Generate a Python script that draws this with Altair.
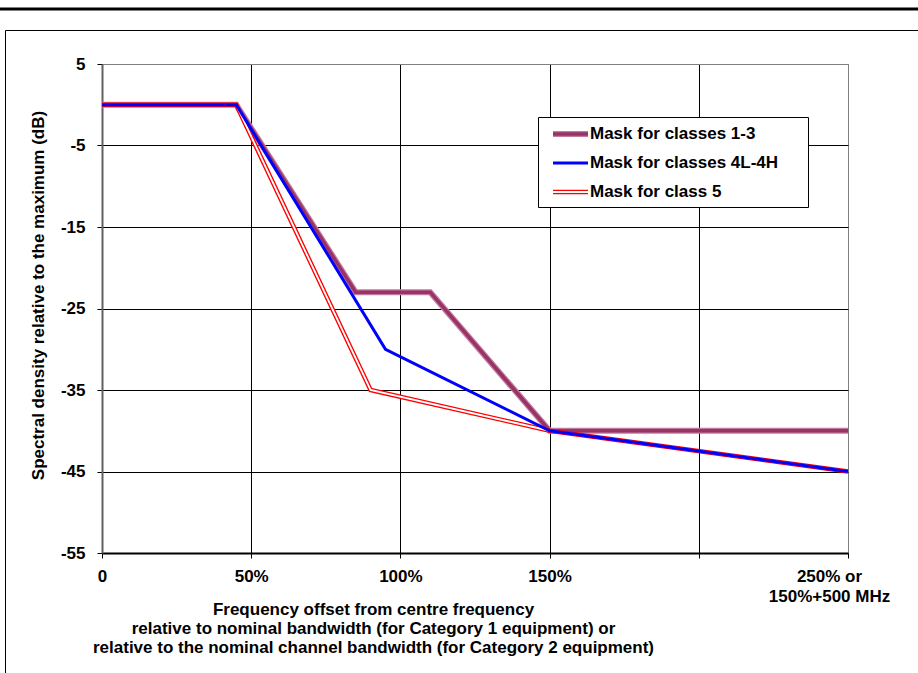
import altair as alt
import pandas as pd

# Spectral density masks (dB relative to the maximum) vs. frequency offset (% of bandwidth)
series_names = ["Mask for classes  1-3", "Mask for classes  4L-4H", "Mask for class 5"]

freq_classes_1_3 = [0, 45, 85, 110, 150, 250]
mask_classes_1_3 = [0, 0, -23, -23, -40, -40]

freq_classes_4 = [0, 45, 95, 150, 250]
mask_classes_4 = [0, 0, -30, -40, -45]

freq_class_5 = [0, 45, 90, 150, 250]
mask_class_5 = [0, 0, -35, -40, -45]

x_ticks = [0, 50, 100, 150, 200, 250]
x_tick_labels = ["0", "50%", "100%", "150%", "", "250% or\n150%+500 MHz"]
y_ticks = [5, -5, -15, -25, -35, -45, -55]

x_title = [
    "Frequency offset from centre frequency",
    "relative to nominal bandwidth (for Category 1 equipment) or",
    "relative to the nominal channel bandwidth (for Category 2 equipment)",
]
y_title = "Spectral density relative to the maximum (dB)"

FONT = "Liberation Sans"
FS = 17

# ---- long-form table of all mask vertices ----
frames = []
for name, fx, my in [
    (series_names[0], freq_classes_1_3, mask_classes_1_3),
    (series_names[1], freq_classes_4, mask_classes_4),
    (series_names[2], freq_class_5, mask_class_5),
]:
    frames.append(pd.DataFrame({"series": name, "freq": fx, "db": my, "order": range(len(fx))}))
lines_df = pd.concat(frames, ignore_index=True)


def js_label(text):
    parts = text.split("\n")
    if len(parts) == 1:
        return repr(parts[0])
    return "[" + ", ".join(repr(p) for p in parts) + "]"


label_expr = ""
for v, lab in zip(x_ticks, x_tick_labels):
    label_expr += f"datum.value == {v} ? {js_label(lab)} : "
label_expr += "''"

x_enc = alt.X(
    "freq:Q",
    scale=alt.Scale(domain=[0, 250], nice=False, zero=False),
    axis=alt.Axis(
        values=x_ticks,
        labelExpr=label_expr,
        labelFont=FONT,
        labelFontSize=FS,
        labelFontWeight="bold",
        labelColor="#000000",
        labelPadding=10,
        labelLineHeight=20,
        labelOffset={"condition": {"test": "datum.value == 250", "value": -19}, "value": 0},
        labelFlush=False,
        labelOverlap=False,
        tickSize=5,
        tickColor="#000000",
        domainColor="#000000",
        domainWidth=2,
        grid=True,
        gridColor={"condition": {"test": "datum.value == 250", "value": "#808080"}, "value": "#000000"},
        gridWidth=1,
        title=x_title,
        titleFont=FONT,
        titleFontSize=FS,
        titleFontWeight="bold",
        titleColor="#000000",
        titleX=271,
        titleY=48,
        titleAlign="center",
        titleBaseline="top",
        titleLineHeight=19,
    ),
)

y_enc = alt.Y(
    "db:Q",
    scale=alt.Scale(domain=[-55, 5], nice=False, zero=False),
    axis=alt.Axis(
        values=y_ticks,
        labelExpr="'' + datum.value",
        labelFont=FONT,
        labelFontSize=FS,
        labelFontWeight="bold",
        labelColor="#000000",
        labelPadding=12,
        labelFlush=False,
        labelOverlap=False,
        tickSize=5,
        tickColor="#000000",
        domainColor="#606060",
        domainWidth=2,
        grid=True,
        gridColor={"condition": {"test": "datum.value == 5", "value": "#808080"}, "value": "#000000"},
        gridWidth=1,
        title=y_title,
        titleFont=FONT,
        titleFontSize=FS,
        titleFontWeight="bold",
        titleColor="#000000",
        titleX=-64,
        titleY=231,
        titleAngle=270,
        titleAlign="center",
        titleBaseline="middle",
    ),
)


def mask_line(series, color, width):
    return (
        alt.Chart(lines_df)
        .transform_filter(alt.datum.series == series)
        .mark_line(color=color, strokeWidth=width, strokeJoin="miter")
        .encode(x=x_enc, y=y_enc, order="order:Q")
    )


# classes 1-3: thick two-tone purple; class 5: red double line; classes 4L-4H: solid blue
purple_outer = mask_line(series_names[0], "#c27ba0", 6)
purple_inner = mask_line(series_names[0], "#993366", 3.5)
red_outer = mask_line(series_names[2], "#ff0000", 4.5)
red_inner = mask_line(series_names[2], "#ffffff", 1.8)
blue_line = mask_line(series_names[1], "#0000ff", 3)

# ---- legend box ----
one_row = pd.DataFrame({"k": [0]})
legend_df = pd.DataFrame({"name": series_names, "idx": [0, 1, 2]})

legend_box = alt.Chart(one_row).mark_rect(
    fill="#ffffff", stroke="#000000", strokeWidth=1
).encode(
    x=alt.value(436.5), x2=alt.value(706.5), y=alt.value(53.5), y2=alt.value(143.5)
)

legend_base = alt.Chart(legend_df).transform_calculate(ly="70 + 29 * datum.idx")


def legend_symbol(idx, color, width):
    return (
        legend_base.transform_filter(alt.datum.idx == idx)
        .mark_rule(color=color, strokeWidth=width)
        .encode(x=alt.value(451), x2=alt.value(486), y=alt.Y("ly:Q", scale=None))
    )


legend_text = legend_base.mark_text(
    align="left", baseline="middle", font=FONT, fontSize=FS, fontWeight="bold", color="#000000"
).encode(x=alt.value(488), y=alt.Y("ly:Q", scale=None), text="name:N")

# ---- outer frame decorations ----
top_bar = alt.Chart(one_row).mark_rule(color="#000000", strokeWidth=3).encode(
    x=alt.value(-102), x2=alt.value(820), y=alt.value(-55)
)
frame = alt.Chart(one_row).mark_rect(
    fillOpacity=0, stroke="#000000", strokeWidth=1
).encode(
    x=alt.value(-96.5), x2=alt.value(900), y=alt.value(-33.5), y2=alt.value(700)
)

chart = alt.layer(
    purple_outer,
    purple_inner,
    red_outer,
    red_inner,
    blue_line,
    legend_box,
    legend_symbol(0, "#c27ba0", 6),
    legend_symbol(0, "#993366", 3.5),
    legend_symbol(1, "#0000ff", 3),
    legend_symbol(2, "#ff0000", 4.5),
    legend_symbol(2, "#ffffff", 1.8),
    legend_text,
    top_bar,
    frame,
).properties(
    width=746,
    height=489,
    autosize=alt.AutoSizeParams(type="none"),
    padding={"left": 102, "top": 64, "right": 70, "bottom": 120},
    background="#ffffff",
).configure_view(
    stroke="#808080", strokeWidth=1
)

chart.save("out.html", embed_options={"renderer": "svg", "actions": False})
